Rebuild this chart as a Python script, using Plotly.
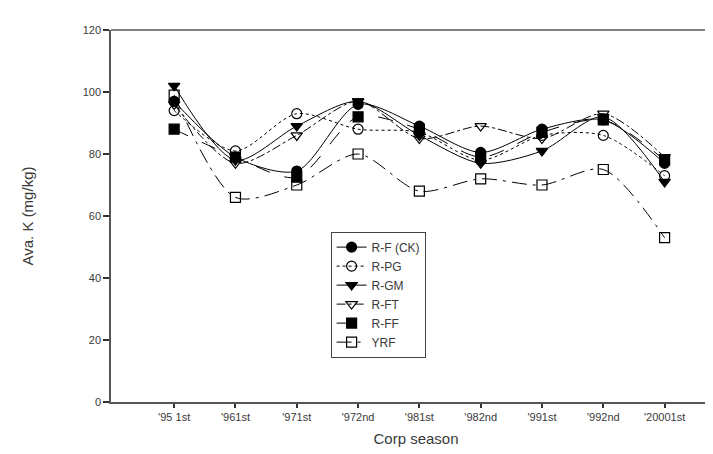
import plotly.graph_objects as go

seasons = ["'95 1st", "'961st", "'971st", "'972nd", "'981st", "'982nd", "'991st", "'992nd", "'20001st"]

rf_ck = [97, 79, 74.5, 96, 89, 80.5, 88, 91, 77]
r_pg = [94, 81, 93, 88, 87, 78, 86, 86, 73]
r_gm = [102, 78, 89, 97, 86, 77, 81, 92, 71]
r_ft = [96, 77, 86, 97, 85, 89, 85, 93, 79]
r_ff = [88, 79, 72.5, 92, 88, 79, 87, 91, 78]
yrf = [99, 66, 70, 80, 68, 72, 70, 75, 53]

series = [
    ("R-F (CK)", rf_ck, "circle", "solid"),
    ("R-PG", r_pg, "circle-open", "dot"),
    ("R-GM", r_gm, "triangle-down", "solid"),
    ("R-FT", r_ft, "triangle-down-open", "dashdot"),
    ("R-FF", r_ff, "square", "longdash"),
    ("YRF", yrf, "square-open", "longdashdot"),
]

TXT = "#3a3a3a"

fig = go.Figure()
for name, vals, sym, dash in series:
    fig.add_trace(go.Scatter(
        x=list(range(len(seasons))), y=vals, name=name, mode="lines+markers",
        line=dict(color="black", width=1, dash=dash, shape="spline", smoothing=0.8),
        marker=dict(symbol=sym, size=10, color="black", line=dict(color="black", width=1.2)),
    ))

fig.update_layout(
    template="none",
    width=713, height=454,
    margin=dict(l=103, r=0, t=22, b=60),
    plot_bgcolor="white", paper_bgcolor="white",
    font=dict(family="Liberation Sans, Arial, sans-serif", color=TXT, size=11),
    showlegend=True,
    legend=dict(
        x=0.36, y=0.458, xanchor="left", yanchor="top",
        bordercolor="#444444", borderwidth=1, bgcolor="white",
        font=dict(size=12, color=TXT), tracegroupgap=0,
    ),
)
fig.update_xaxes(
    tickmode="array", tickvals=list(range(len(seasons))), ticktext=seasons,
    range=[-1.03, 8.92], showgrid=False, zeroline=False,
    showline=True, linecolor="#555555", linewidth=1.5, mirror=False,
    ticks="outside", ticklen=4, tickwidth=1.5, tickcolor="#333333",
    tickfont=dict(size=11, color=TXT),
    title=dict(text="Corp season", font=dict(size=15, color=TXT), standoff=12),
)
fig.update_yaxes(
    range=[0, 120], tickvals=[0, 20, 40, 60, 80, 100, 120],
    showgrid=False, zeroline=False,
    showline=True, linecolor="#555555", linewidth=1.5, mirror=False,
    ticks="outside", ticklen=6, tickwidth=1.5, tickcolor="#333333",
    tickfont=dict(size=11, color=TXT),
    title=dict(text="Ava. K (mg/kg)", font=dict(size=15, color=TXT), standoff=45),
)
fig.add_shape(type="line", xref="paper", yref="paper", x0=0, x1=1, y0=1, y1=1,
              line=dict(color="#555555", width=1.5))

fig.write_html("out.html")
